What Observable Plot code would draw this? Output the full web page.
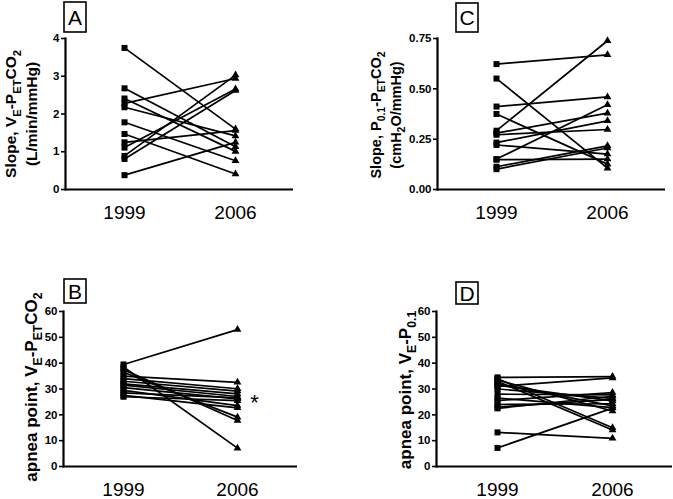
<!DOCTYPE html>
<html><head><meta charset="utf-8">
<script src="https://cdn.jsdelivr.net/npm/d3@7"></script>
<script src="https://cdn.jsdelivr.net/npm/@observablehq/plot@0.6"></script>
<style>
body{margin:0;background:#fff;}
#root{position:relative;width:673px;height:499px;font-family:"Liberation Sans",Arial,sans-serif;}
#root svg{position:absolute;overflow:visible;}
</style></head><body><div id="root"></div>
<script>
// ---- data ----
const years = ["1999", "2006"];

// Panel A: Slope, VE-PETCO2 (L/min/mmHg)
const slopeVE_1999 = [3.75, 2.68, 2.41, 2.28, 2.18, 1.78, 1.47, 1.25, 1.11, 0.89, 0.81, 0.38];
const slopeVE_2006 = [1.60, 1.13, 1.01, 2.94, 1.42, 0.76, 0.41, 1.56, 2.66, 3.03, 2.62, 1.25];
const ticksA = [0, 1, 2, 3, 4];

// Panel C: Slope, P0.1-PETCO2 (cmH2O/mmHg)
const slopeP01_1999 = [0.623, 0.551, 0.412, 0.375, 0.292, 0.280, 0.272, 0.233, 0.221, 0.151, 0.148, 0.113, 0.101];
const slopeP01_2006 = [0.669, 0.106, 0.460, 0.126, 0.739, 0.379, 0.298, 0.341, 0.176, 0.421, 0.151, 0.217, 0.206];
const ticksC = [0, 0.25, 0.5, 0.75];

// Panel B: apnea point, VE-PETCO2
const apneaVE_1999 = [39.5, 38.5, 37.5, 36.5, 35, 34, 33, 32, 31.5, 30.5, 29.5, 28.5, 27.5, 27];
const apneaVE_2006 = [53.0, 7.1, 17.8, 19.1, 32.6, 30.1, 29.2, 28.1, 27.1, 26.2, 23.6, 26.6, 22.7, 25.5];
const ticksB = [0, 10, 20, 30, 40, 50, 60];

// Panel D: apnea point, VE-P0.1
const apneaP01_1999 = [34.5, 34, 33.5, 33, 32, 31.5, 31, 30, 28, 26.5, 25.5, 24, 23, 22.5, 13.2, 7.2];
const apneaP01_2006 = [34.8, 15.0, 21.5, 14.1, 23.5, 25.4, 34.3, 26.4, 27.7, 22.8, 28.6, 24.3, 26.0, 27.2, 10.9, 22.6];
const ticksD = [0, 10, 20, 30, 40, 50, 60];

// significance marker (panel B)
const sigB = [{x: "2006", y: 26, label: "*"}];

// labels
const panelLetters = ["A", "C", "B", "D"];
const labelA = [[["Slope, V"], ["E", 1], ["-P"], ["ET", 1], ["CO"], ["2", 1]], [["(L/min/mmHg)"]]];
const labelC = [[["Slope, P"], ["0.1", 1], ["-P"], ["ET", 1], ["CO"], ["2", 1]], [["(cmH"], ["2", 1], ["O/mmHg)"]]];
const labelB = [[["apnea point, V"], ["E", 1], ["-P"], ["ET", 1], ["CO"], ["2", 1]]];
const labelD = [[["apnea point, V"], ["E", 1], ["-P"], ["0.1", 1]]];

const FONT = '"Liberation Sans", Arial, Helvetica, sans-serif';
const root = document.getElementById("root");

function panel(cfg) {
  const pairs = cfg.v1999.map((a, i) => ({a, b: cfg.v2006[i]}));
  const chart = Plot.plot({
    width: cfg.width, height: cfg.height,
    marginLeft: cfg.ml, marginRight: cfg.mr, marginTop: cfg.mt, marginBottom: cfg.mb,
    style: {fontFamily: FONT, color: "black", background: "transparent", overflow: "visible"},
    x: {type: "point", domain: years, padding: 0.52},
    y: {domain: cfg.yDomain},
    marks: [
      Plot.axisY({ticks: cfg.ticks, tickSize: 4, tickPadding: 2, tickFormat: cfg.tickFormat,
        fontSize: 11.5, fontWeight: "bold", label: null, strokeWidth: 1.6}),
      Plot.axisX({tickSize: 0, tickPadding: 16, fontSize: 19, label: null}),
      Plot.ruleY([cfg.yDomain[0]], {strokeWidth: 2.2}),
      Plot.frame({anchor: "left", strokeWidth: 2.2}),
      Plot.link(pairs, {x1: () => years[0], y1: "a", x2: () => years[1], y2: "b", stroke: "black", strokeWidth: 1.7}),
      Plot.dot(pairs, {x: () => years[0], y: "a", symbol: "square", r: 3.4, fill: "black", stroke: null}),
      Plot.dot(pairs, {x: () => years[1], y: "b", symbol: "triangle", r: 2.9, fill: "black", stroke: null}),
      ...(cfg.sig ? [Plot.text(cfg.sig, {x: "x", y: "y", text: "label", dx: 17, dy: 4, fontSize: 22, fill: "black"})] : [])
    ]
  });
  chart.style.left = cfg.left + "px";
  chart.style.top = cfg.top + "px";
  root.appendChild(chart);
  const svg = d3.select(chart);

  // panel letter box
  const b = cfg.box;
  svg.append("rect").attr("x", b.x).attr("y", b.y).attr("width", b.w).attr("height", b.h)
    .attr("fill", "white").attr("stroke", "black").attr("stroke-width", 1.6);
  svg.append("text").attr("x", b.x + b.w / 2).attr("y", b.y + b.h / 2).attr("dy", "0.36em")
    .attr("text-anchor", "middle").attr("font-size", 21).attr("font-family", FONT).attr("fill", "black")
    .text(cfg.letter);

  // rotated y label lines
  cfg.label.forEach((line, i) => {
    const lx = cfg.labelX[i], ly = cfg.labelY, fs = cfg.labelSize[i];
    const t = svg.append("text")
      .attr("transform", `translate(${lx},${ly}) rotate(-90)`)
      .attr("text-anchor", "middle").attr("font-weight", "bold")
      .attr("font-size", fs).attr("font-family", FONT).attr("fill", "black");
    let shifted = false;
    line.forEach(([s, sub]) => {
      const ts = t.append("tspan").text(s);
      if (sub && !shifted) { ts.attr("dy", fs * 0.3).attr("font-size", fs * 0.72); shifted = true; }
      else if (sub) { ts.attr("font-size", fs * 0.72); }
      else if (shifted) { ts.attr("dy", -fs * 0.3); shifted = false; }
    });
  });
}

const fmt2 = d3.format(".2f");

panel({letter: panelLetters[0], v1999: slopeVE_1999, v2006: slopeVE_2006, yDomain: [0, 4], ticks: ticksA, tickFormat: d => d,
  left: 0, top: 0, width: 336, height: 249, ml: 65, mr: 43, mt: 38, mb: 60,
  box: {x: 64, y: 2, w: 22, h: 30}, label: labelA, labelX: [16, 37], labelY: 114, labelSize: [15.5, 15.5]});

panel({letter: panelLetters[1], v1999: slopeP01_1999, v2006: slopeP01_2006, yDomain: [0, 0.75], ticks: ticksC, tickFormat: fmt2,
  left: 336, top: 0, width: 337, height: 249, ml: 101, mr: 8, mt: 38, mb: 60,
  box: {x: 120, y: 3, w: 22, h: 29}, label: labelC, labelX: [45, 65], labelY: 115, labelSize: [14.5, 14.5]});

panel({letter: panelLetters[2], v1999: apneaVE_1999, v2006: apneaVE_2006, yDomain: [0, 60], ticks: ticksB, tickFormat: d => d,
  left: 0, top: 249, width: 336, height: 250, ml: 63, mr: 39, mt: 62, mb: 33, sig: sigB,
  box: {x: 64, y: 30, w: 22, h: 24}, label: labelB, labelX: [37], labelY: 138, labelSize: [17]});

panel({letter: panelLetters[3], v1999: apneaP01_1999, v2006: apneaP01_2006, yDomain: [0, 60], ticks: ticksD, tickFormat: d => d,
  left: 336, top: 249, width: 337, height: 250, ml: 100, mr: 1, mt: 62, mb: 33,
  box: {x: 120, y: 33, w: 22, h: 22}, label: labelD, labelX: [75], labelY: 141, labelSize: [17]});
</script></body></html>
